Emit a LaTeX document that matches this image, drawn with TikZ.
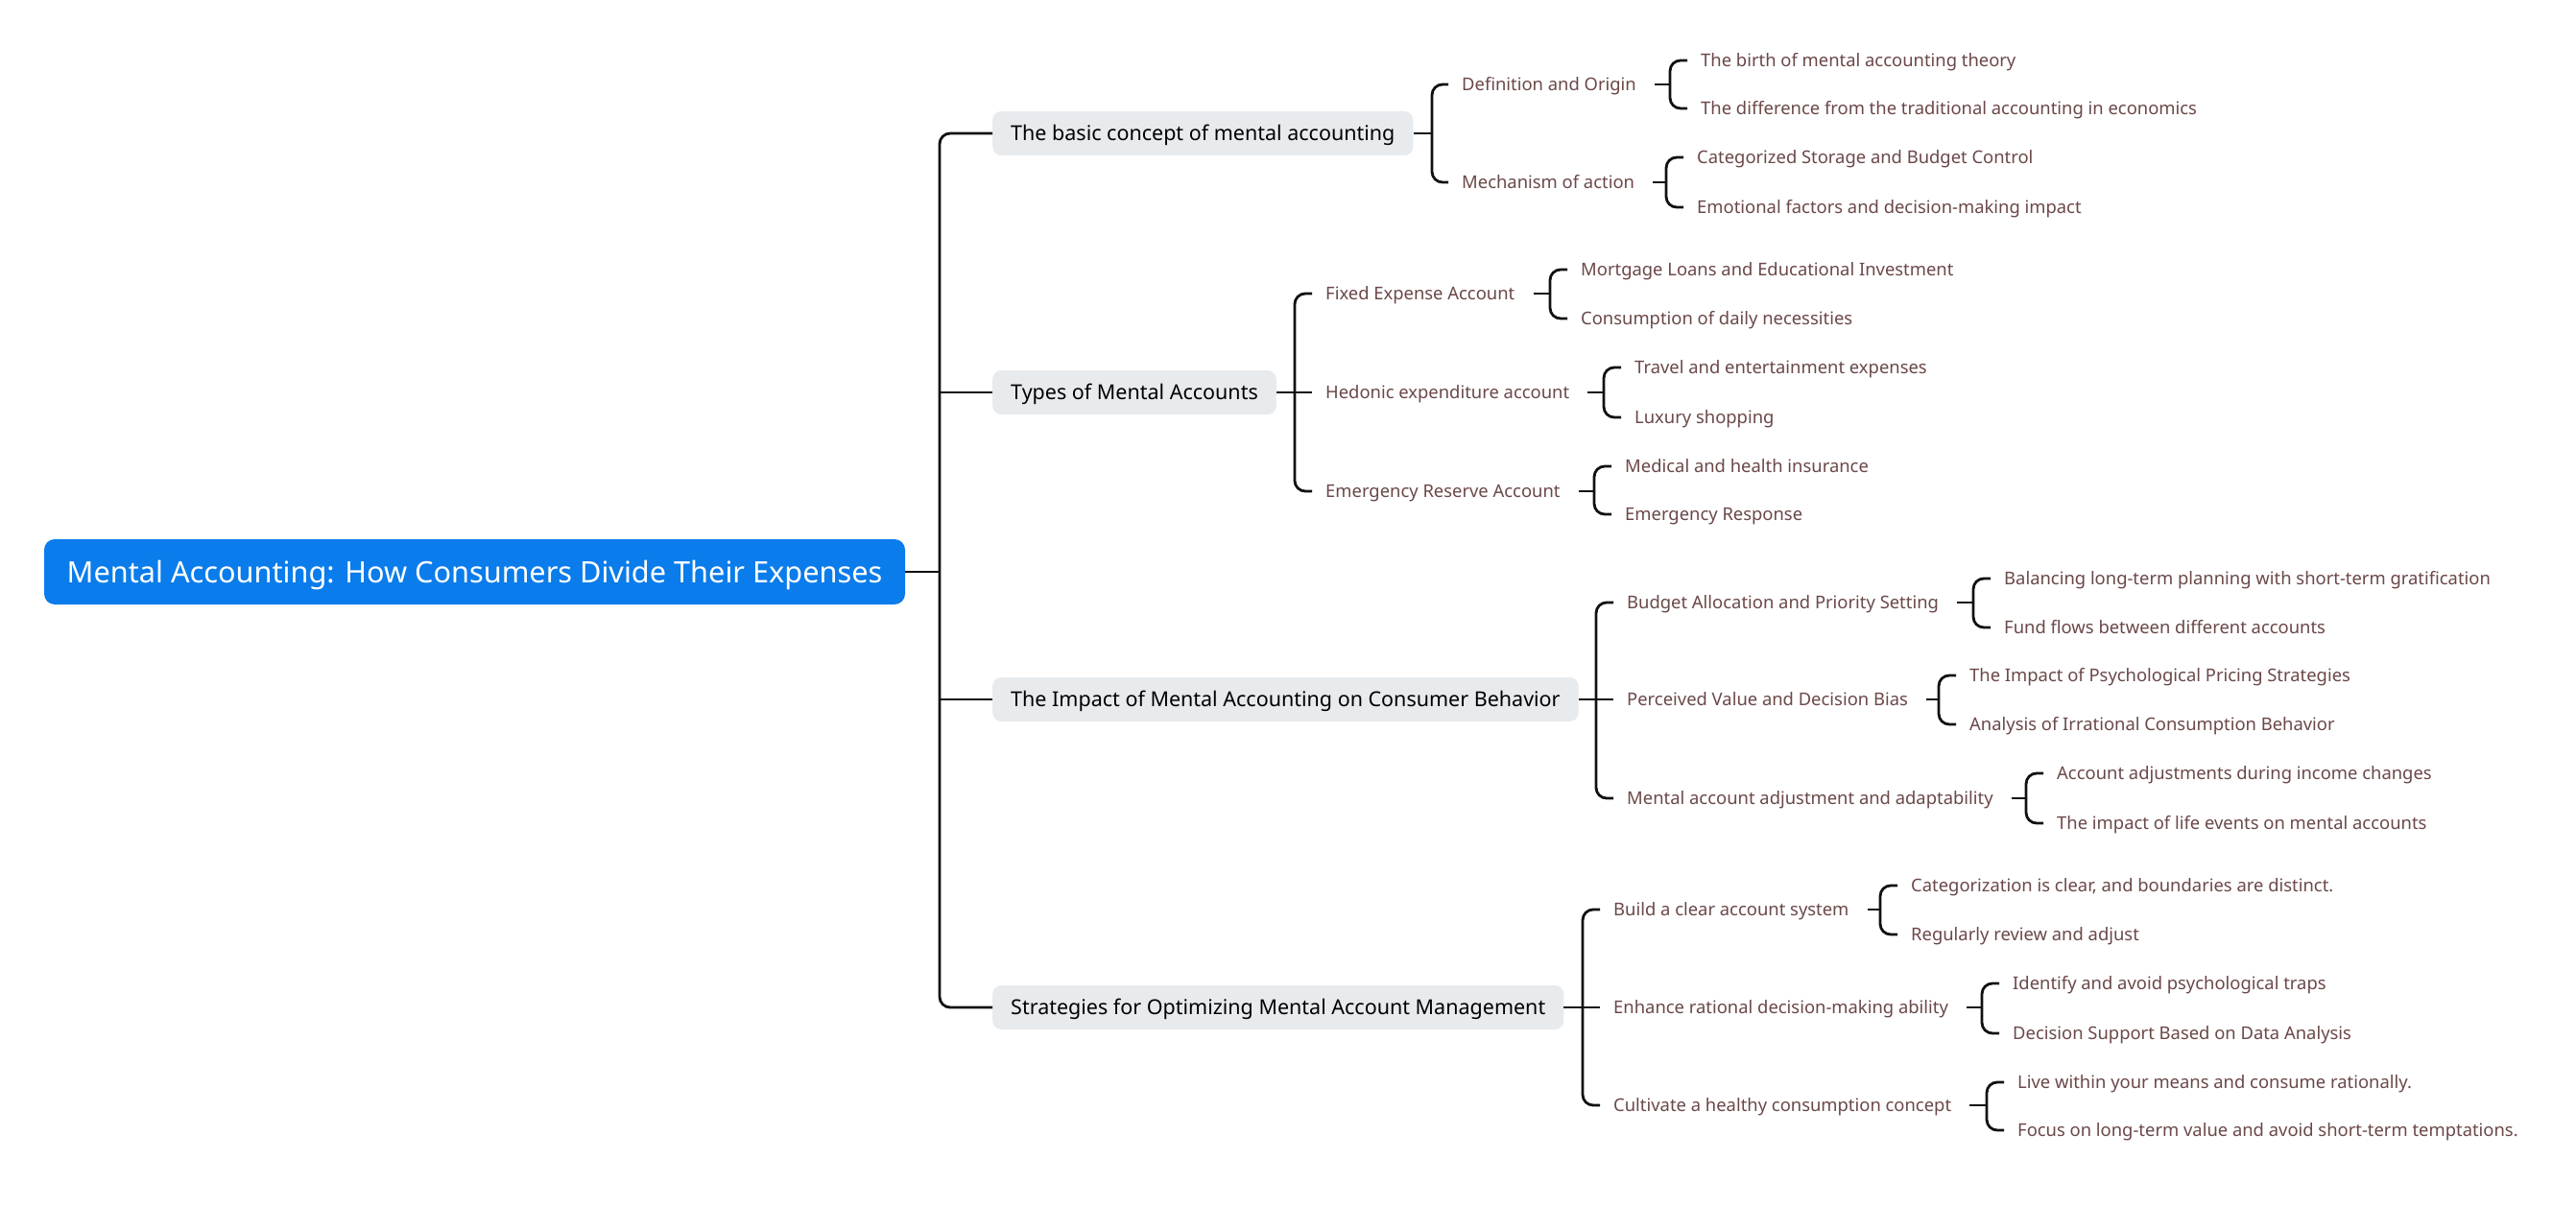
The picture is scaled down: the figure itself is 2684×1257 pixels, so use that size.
\documentclass[tikz,border=0pt]{standalone}
\usepackage{fontspec}
\setmainfont{Noto Sans}
\usetikzlibrary{positioning}
\definecolor{MARootBlue}{HTML}{0A7CEB}
\definecolor{MATopicGray}{HTML}{E8EBEE}
\definecolor{MABranchText}{HTML}{6B4848}
\definecolor{MALine}{HTML}{111111}

\begin{document}
\begin{tikzpicture}[x=1pt,y=-1pt,
    rootnode/.style={fill=MARootBlue, text=white, rounded corners=11pt, minimum width=897pt,
      minimum height=68pt, inner sep=0pt, text height=27.6pt, text depth=5.5pt,
      font=\fontsize{30.7}{36}\selectfont},
    topicnode/.style={fill=MATopicGray, text=black, rounded corners=9pt, minimum height=46pt,
      inner xsep=19pt, inner ysep=0pt, anchor=west, text height=19.4pt, text depth=3.9pt,
      font=\fontsize{21.5}{25}\selectfont},
    subnode/.style={text=MABranchText, inner xsep=14pt, inner ysep=2pt, anchor=west,
      text height=16.6pt, text depth=3.3pt, font=\fontsize{18.4}{22}\selectfont},
    link/.style={draw=MALine, line width=2.8pt},
    fork/.style={link, rounded corners=11pt}]
    \fill[white] (0,0) rectangle (2684,1257);
    \useasboundingbox (0,0) rectangle (2684,1257);

    % root and main topics
    \node[rootnode] (root) at (494.5,596) {Mental Accounting: How Consumers Divide Their Expenses};
    \node[topicnode] (bc) at (1034,139) {The basic concept of mental accounting};
    \node[topicnode] (tma) at (1034,409) {Types of Mental Accounts};
    \node[topicnode] (imp) at (1034,729) {The Impact of Mental Accounting on Consumer Behavior};
    \node[topicnode] (str) at (1034,1050) {Strategies for Optimizing Mental Account Management};

    % basic concept
    \node[subnode] (dao) at (1509,88) {Definition and Origin};
    \node[subnode] (moa) at (1509,190) {Mechanism of action};
    \node[subnode] (dao1) at (1758,63) {The birth of mental accounting theory};
    \node[subnode] (dao2) at (1758,113) {The difference from the traditional accounting in economics};
    \node[subnode] (moa1) at (1754,164) {Categorized Storage and Budget Control};
    \node[subnode] (moa2) at (1754,216) {Emotional factors and decision-making impact};

    % types
    \node[subnode] (fea) at (1367,306) {Fixed Expense Account};
    \node[subnode] (hea) at (1367,409) {Hedonic expenditure account};
    \node[subnode] (era) at (1367,512) {Emergency Reserve Account};
    \node[subnode] (fea1) at (1633,281) {Mortgage Loans and Educational Investment};
    \node[subnode] (fea2) at (1633,332) {Consumption of daily necessities};
    \node[subnode] (hea1) at (1689,383) {Travel and entertainment expenses};
    \node[subnode] (hea2) at (1689,435) {Luxury shopping};
    \node[subnode] (era1) at (1679,486) {Medical and health insurance};
    \node[subnode] (era2) at (1679,536) {Emergency Response};

    % impact
    \node[subnode] (bap) at (1681,628) {Budget Allocation and Priority Setting};
    \node[subnode] (pvd) at (1681,729) {Perceived Value and Decision Bias};
    \node[subnode] (maa) at (1681,832) {Mental account adjustment and adaptability};
    \node[subnode] (bap1) at (2074,603) {Balancing long-term planning with short-term gratification};
    \node[subnode] (bap2) at (2074,654) {Fund flows between different accounts};
    \node[subnode] (pvd1) at (2038,704) {The Impact of Psychological Pricing Strategies};
    \node[subnode] (pvd2) at (2038,755) {Analysis of Irrational Consumption Behavior};
    \node[subnode] (maa1) at (2129,806) {Account adjustments during income changes};
    \node[subnode] (maa2) at (2129,858) {The impact of life events on mental accounts};

    % strategies
    \node[subnode] (bca) at (1667,948) {Build a clear account system};
    \node[subnode] (erd) at (1667,1050) {Enhance rational decision-making ability};
    \node[subnode] (chc) at (1667,1152) {Cultivate a healthy consumption concept};
    \node[subnode] (bca1) at (1977,923) {Categorization is clear, and boundaries are distinct.};
    \node[subnode] (bca2) at (1977,974) {Regularly review and adjust};
    \node[subnode] (erd1) at (2083,1025) {Identify and avoid psychological traps};
    \node[subnode] (erd2) at (2083,1077) {Decision Support Based on Data Analysis};
    \node[subnode] (chc1) at (2088,1128) {Live within your means and consume rationally.};
    \node[subnode] (chc2) at (2088,1178) {Focus on long-term value and avoid short-term temptations.};

    % junctions
    \coordinate (root-j) at (979,596);
    \coordinate (bc-j) at (1492,139);
    \coordinate (tma-j) at (1349,409);
    \coordinate (imp-j) at (1663,729);
    \coordinate (str-j) at (1649,1050);
    \coordinate (dao-j) at (1740,88);
    \coordinate (moa-j) at (1736,190);
    \coordinate (fea-j) at (1615,306);
    \coordinate (hea-j) at (1671,409);
    \coordinate (era-j) at (1661,512);
    \coordinate (bap-j) at (2056,628);
    \coordinate (pvd-j) at (2020,729);
    \coordinate (maa-j) at (2111,832);
    \coordinate (bca-j) at (1959,948);
    \coordinate (erd-j) at (2065,1050);
    \coordinate (chc-j) at (2070,1152);

    % trunk
    \draw[link] (root.east) -- (root-j);
    \draw[fork] (root-j) |- (bc.west);
    \draw[fork] (root-j) |- (str.west);
    \draw[link] (tma.west -| root-j) -- (tma.west);
    \draw[link] (imp.west -| root-j) -- (imp.west);

    % topic forks
    \draw[link] (bc.east) -- (bc-j);
    \draw[fork] (bc-j) |- (dao.west);
    \draw[fork] (bc-j) |- (moa.west);
    \draw[link] (tma.east) -- (tma-j);
    \draw[fork] (tma-j) |- (fea.west);
    \draw[fork] (tma-j) |- (era.west);
    \draw[link] (tma-j) -- (hea.west);
    \draw[link] (imp.east) -- (imp-j);
    \draw[fork] (imp-j) |- (bap.west);
    \draw[fork] (imp-j) |- (maa.west);
    \draw[link] (imp-j) -- (pvd.west);
    \draw[link] (str.east) -- (str-j);
    \draw[fork] (str-j) |- (bca.west);
    \draw[fork] (str-j) |- (chc.west);
    \draw[link] (str-j) -- (erd.west);

    % leaf forks
    \draw[link] ([xshift=5pt]dao.east) -- (dao-j);
    \draw[fork] (dao-j) |- (dao1.west);
    \draw[fork] (dao-j) |- (dao2.west);
    \draw[link] ([xshift=5pt]moa.east) -- (moa-j);
    \draw[fork] (moa-j) |- (moa1.west);
    \draw[fork] (moa-j) |- (moa2.west);
    \draw[link] ([xshift=5pt]fea.east) -- (fea-j);
    \draw[fork] (fea-j) |- (fea1.west);
    \draw[fork] (fea-j) |- (fea2.west);
    \draw[link] ([xshift=5pt]hea.east) -- (hea-j);
    \draw[fork] (hea-j) |- (hea1.west);
    \draw[fork] (hea-j) |- (hea2.west);
    \draw[link] ([xshift=5pt]era.east) -- (era-j);
    \draw[fork] (era-j) |- (era1.west);
    \draw[fork] (era-j) |- (era2.west);
    \draw[link] ([xshift=5pt]bap.east) -- (bap-j);
    \draw[fork] (bap-j) |- (bap1.west);
    \draw[fork] (bap-j) |- (bap2.west);
    \draw[link] ([xshift=5pt]pvd.east) -- (pvd-j);
    \draw[fork] (pvd-j) |- (pvd1.west);
    \draw[fork] (pvd-j) |- (pvd2.west);
    \draw[link] ([xshift=5pt]maa.east) -- (maa-j);
    \draw[fork] (maa-j) |- (maa1.west);
    \draw[fork] (maa-j) |- (maa2.west);
    \draw[link] ([xshift=5pt]bca.east) -- (bca-j);
    \draw[fork] (bca-j) |- (bca1.west);
    \draw[fork] (bca-j) |- (bca2.west);
    \draw[link] ([xshift=5pt]erd.east) -- (erd-j);
    \draw[fork] (erd-j) |- (erd1.west);
    \draw[fork] (erd-j) |- (erd2.west);
    \draw[link] ([xshift=5pt]chc.east) -- (chc-j);
    \draw[fork] (chc-j) |- (chc1.west);
    \draw[fork] (chc-j) |- (chc2.west);
  \end{tikzpicture}
\end{document}
